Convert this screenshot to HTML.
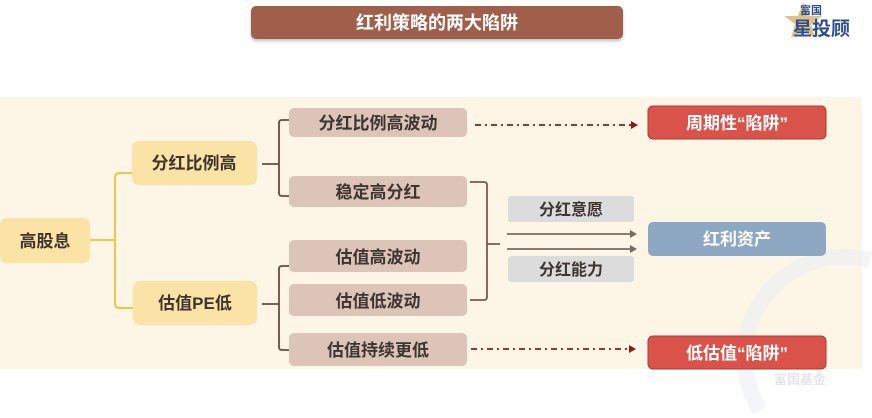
<!DOCTYPE html>
<html><head><meta charset="utf-8"><style>
html,body{margin:0;padding:0;background:#fff;}
svg text{font-family:"Liberation Sans","Noto Sans CJK SC",sans-serif;font-weight:bold;}
</style></head><body>
<svg width="872" height="413" viewBox="0 0 872 413" xmlns="http://www.w3.org/2000/svg">
<defs>
<filter id="sh" x="-10%" y="-20%" width="120%" height="150%"><feDropShadow dx="0" dy="2" stdDeviation="1.5" flood-color="#000" flood-opacity="0.25"/></filter>
</defs>
<rect x="0" y="0" width="872" height="413" fill="#fff"/>
<rect x="251" y="6" width="372" height="33" rx="5" fill="#a05f4c" filter="url(#sh)"/>
<text x="437" y="29" font-size="18" fill="#fff" text-anchor="middle">红利策略的两大陷阱</text>
<polygon points="803,2 808,16 822,16 811,24 815,38 803,30 791,38 795,24 784,16 798,16" fill="#d8b770" opacity="0.85"/>
<text x="800" y="14" font-size="11" fill="#2e4d8f">富国</text>
<text x="793" y="35" font-size="19" fill="#2e4d8f">星投顾</text>
<rect x="0" y="97" width="862" height="272" fill="#fdf5e5"/>
<path d="M760,410 A100,100 0 0 1 870,260" stroke="#eceef3" stroke-width="16" fill="none" opacity="0.6"/>
<text x="800" y="384" font-size="13" fill="#e3e6ec" text-anchor="middle">富国基金</text>
<path d="M90,240 H115 M133,173 H120 Q115,173 115,178 V303 Q115,308 120,308 H133" stroke="#efc44f" stroke-width="2" fill="none"/>
<path d="M262,164 H279 M289,120 H282 Q279,120 279,123 V193 Q279,196 282,196 H289" stroke="#6b4a40" stroke-width="1.8" fill="none"/>
<path d="M262,304 H279 M289,266 H282 Q279,266 279,269 V347 Q279,350 282,350 H289" stroke="#6b4a40" stroke-width="1.8" fill="none"/>
<path d="M470,182 H484 Q487,182 487,185 V297 Q487,300 484,300 H470 M487,244 H500" stroke="#7a5a50" stroke-width="1.8" fill="none"/>
<rect x="0" y="218" width="90" height="45" rx="7" fill="#fbe3a5"/>
<text x="45" y="247" font-size="17" fill="#3e3530" text-anchor="middle">高股息</text>
<rect x="132" y="141" width="125" height="44" rx="7" fill="#fbe3a5"/>
<text x="194" y="169" font-size="17" fill="#3e3530" text-anchor="middle">分红比例高</text>
<rect x="133" y="281" width="124" height="44" rx="7" fill="#fbe3a5"/>
<text x="195" y="309" font-size="17" fill="#3e3530" text-anchor="middle">估值PE低</text>
<g fill="#dcc4b9">
<rect x="289" y="108" width="178" height="29" rx="5"/>
<rect x="289" y="176" width="178" height="31" rx="5"/>
<rect x="289" y="240" width="178" height="32" rx="5"/>
<rect x="289" y="284" width="178" height="32" rx="5"/>
<rect x="289" y="333" width="178" height="33" rx="5"/>
</g>
<g font-size="17" fill="#3e3530" text-anchor="middle">
<text x="378" y="129">分红比例高波动</text>
<text x="378" y="198">稳定高分红</text>
<text x="378" y="263">估值高波动</text>
<text x="378" y="307">估值低波动</text>
<text x="378" y="356">估值持续更低</text>
</g>
<rect x="508" y="196" width="126" height="26" rx="3" fill="#dcdcdc"/>
<text x="571" y="215" font-size="16" fill="#3e3530" text-anchor="middle">分红意愿</text>
<rect x="508" y="256" width="126" height="26" rx="3" fill="#dcdcdc"/>
<text x="571" y="275" font-size="16" fill="#3e3530" text-anchor="middle">分红能力</text>
<path d="M507,234 H632 M507,249 H632" stroke="#7a6a64" stroke-width="1.8"/>
<polygon points="637,234 630,230 630,238" fill="#7a6a64"/>
<polygon points="637,249 630,245 630,253" fill="#7a6a64"/>
<path d="M475,125 H632" stroke="#8b1a14" stroke-width="1.8" stroke-dasharray="6,4,2,4"/>
<polygon points="638,125 631,121 631,129" fill="#8b1a14"/>
<path d="M471,349 H630" stroke="#8b1a14" stroke-width="1.8" stroke-dasharray="6,4,2,4"/>
<polygon points="636,349 629,345 629,353" fill="#8b1a14"/>
<rect x="648" y="106" width="178" height="33" rx="5" fill="#d9534a" stroke="#b23a32" stroke-width="1"/>
<text x="737" y="129" font-size="17" fill="#fff" text-anchor="middle">周期性“陷阱”</text>
<rect x="648" y="222" width="178" height="34" rx="5" fill="#8ea8c4"/>
<text x="737" y="245" font-size="17" fill="#fff" text-anchor="middle">红利资产</text>
<rect x="648" y="336" width="178" height="33" rx="5" fill="#d9534a" stroke="#b23a32" stroke-width="1"/>
<text x="737" y="359" font-size="17" fill="#fff" text-anchor="middle">低估值“陷阱”</text>
</svg>
</body></html>
